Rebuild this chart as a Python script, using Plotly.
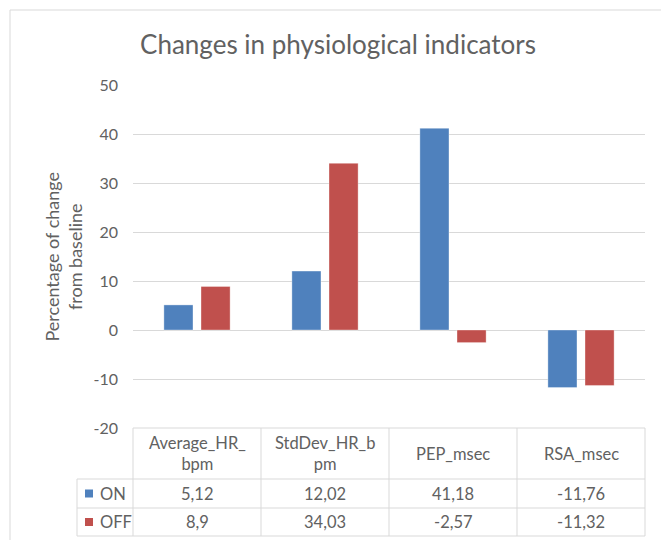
import plotly.graph_objects as go

categories = ["Average_HR_bpm", "StdDev_HR_bpm", "PEP_msec", "RSA_msec"]
header_labels = ["Average_HR_<br>bpm", "StdDev_HR_b<br>pm", "PEP_msec", "RSA_msec"]
series_names = ["ON", "OFF"]
on_values = [5.12, 12.02, 41.18, -11.76]
off_values = [8.9, 34.03, -2.57, -11.32]
series_values = [on_values, off_values]
colors = ["#4F81BD", "#C0504D"]
y_ticks = [-20, -10, 0, 10, 20, 30, 40, 50]

W, H = 661, 540
L, R, T, B = 133, 645, 85, 428  # plot area pixels
pw, ph = R - L, B - T

def px(x):
    return (x - L) / pw

def py(y):
    return (B - y) / ph

TXT = "#616161"
GRID = "#D9D9D9"
FONT = "Lato"

fig = go.Figure()
for name, vals, col in zip(series_names, series_values, colors):
    fig.add_trace(go.Bar(
        x=categories, y=vals, name=name, marker_color=col,
        marker_line=dict(color="rgba(255,255,255,0.35)", width=1),
    ))

shapes = []
shapes.append(dict(type="rect", xref="paper", yref="paper",
                   x0=px(10), x1=px(675), y0=py(10), y1=py(560),
                   line=dict(color=GRID, width=1)))
row_y = [428, 479, 508, 536]
col_x = [L + i * pw / 4 for i in range(5)]
leg_left = 77
line = dict(color=GRID, width=1)
shapes.append(dict(type="line", xref="paper", yref="paper", x0=px(L), x1=px(R),
                   y0=py(row_y[0]), y1=py(row_y[0]), line=line))
for yy in row_y[1:]:
    shapes.append(dict(type="line", xref="paper", yref="paper", x0=px(leg_left), x1=px(R),
                       y0=py(yy), y1=py(yy), line=line))
for xx in col_x:
    shapes.append(dict(type="line", xref="paper", yref="paper", x0=px(xx), x1=px(xx),
                       y0=py(row_y[0]), y1=py(row_y[-1]), line=line))
shapes.append(dict(type="line", xref="paper", yref="paper", x0=px(leg_left), x1=px(leg_left),
                   y0=py(row_y[1]), y1=py(row_y[-1]), line=line))

annotations = []
for i, lab in enumerate(header_labels):
    annotations.append(dict(xref="paper", yref="paper", x=px((col_x[i] + col_x[i + 1]) / 2),
                            y=py((row_y[0] + row_y[1]) / 2), text=lab, showarrow=False,
                            font=dict(family=FONT, size=16.5, color=TXT),
                            xanchor="center", yanchor="middle"))
for r, (name, vals, col) in enumerate(zip(series_names, series_values, colors)):
    yc = (row_y[r + 1] + row_y[r + 2]) / 2
    shapes.append(dict(type="rect", xref="paper", yref="paper",
                       x0=px(85), x1=px(93), y0=py(yc - 4), y1=py(yc + 4),
                       fillcolor=col, line=dict(width=0)))
    annotations.append(dict(xref="paper", yref="paper", x=px(98), y=py(yc), text=name,
                            showarrow=False, font=dict(family=FONT, size=16.5, color=TXT),
                            xanchor="left", yanchor="middle"))
    for i, v in enumerate(vals):
        annotations.append(dict(xref="paper", yref="paper", x=px((col_x[i] + col_x[i + 1]) / 2),
                                y=py(yc), text=str(v).replace(".", ","), showarrow=False,
                                font=dict(family=FONT, size=16.5, color=TXT),
                                xanchor="center", yanchor="middle"))
annotations.append(dict(xref="paper", yref="paper", x=px(63), y=0.5,
                        text="Percentage of change<br>from baseline", textangle=-90,
                        showarrow=False, font=dict(family=FONT, size=18, color=TXT),
                        xanchor="center", yanchor="middle"))

fig.update_layout(
    width=W, height=H,
    margin=dict(l=L, r=W - R, t=T, b=H - B),
    paper_bgcolor="white", plot_bgcolor="white",
    barmode="group", bargap=0.42, bargroupgap=0.216,
    showlegend=False,
    title=dict(text="Changes in physiological indicators", x=338 / W, xanchor="center",
               y=1 - 45 / H, yanchor="middle",
               font=dict(family=FONT, size=26, color=TXT)),
    xaxis=dict(showticklabels=False, showgrid=False, zeroline=False, showline=False,
               range=[-0.5, 3.5]),
    yaxis=dict(range=[-20, 50], tickvals=y_ticks, ticktext=[str(v) for v in y_ticks],
               showgrid=True, gridcolor=GRID, gridwidth=1,
               zeroline=False, showline=False, ticklabelstandoff=14,
               tickfont=dict(family=FONT, size=16, color=TXT)),
    shapes=shapes, annotations=annotations,
)

fig.write_html("out.html", config={"displayModeBar": False},
               post_script="document.body.style.margin='0';")
